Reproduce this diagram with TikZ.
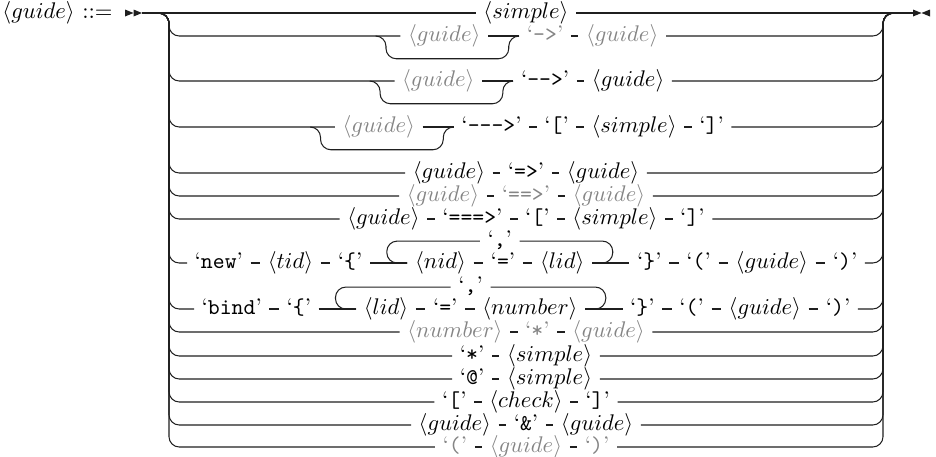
\documentclass[tikz,border=0pt,11pt]{standalone}
\usepackage{xcolor}
\usepackage{tikz}
\usetikzlibrary{matrix,calc,positioning}
\definecolor{railblack}{HTML}{1F1F1F}
\definecolor{graymuted}{HTML}{858585}
\newcommand{\nont}[1]{$\langle #1\rangle$}
\newcommand{\term}[1]{‘\texttt{#1}’}
\tikzset{
  rail/.style={draw=railblack,line width=0.5pt,rounded corners=5pt},
  item/.style={text height=.75em,text depth=.25em,inner xsep=3.5pt,inner ysep=0pt},
  muted/.style={text=graymuted},
  railrow/.style={matrix of nodes,ampersand replacement=\amp,column sep=4pt,
    nodes={item},inner sep=0pt},
}

\begin{document}
\begin{tikzpicture}[x=0.017cm,y=-0.017cm]
  \useasboundingbox (0,0) rectangle (936,456);
  \coordinate (start) at (142,13);
  \coordinate (stop) at (913,13);
  \coordinate (lt) at (169,13);
  \coordinate (rt) at (883,13);
  % start and end marks
  \fill[railblack] (125,9.5) -- (133.5,13) -- (125,16.5) -- cycle;
  \fill[railblack] (133.5,9.5) -- (start) -- (133.5,16.5) -- cycle;
  \fill[railblack] (913,9.5) -- (921.5,13) -- (913,16.5) -- cycle;
  \fill[railblack] (930,9.5) -- (921.5,13) -- (930,16.5) -- cycle;

  \node[item,inner xsep=1pt,anchor=west] (lhs) at (0,13) {\nont{guide} ::=};

  % alternatives
  \matrix[railrow] (r1) at (526,13) {\nont{simple}\\};
  \matrix[railrow,xshift=3.5pt] (r2) at (526,36)
    {|[muted]|\nont{guide} \amp[11.5pt] |[muted]|\term{->} \amp |[muted]|\nont{guide}\\};
  \matrix[railrow,xshift=3.5pt] (r3) at (526,81)
    {|[muted]|\nont{guide} \amp[11.5pt] \term{-\kern0pt->} \amp \nont{guide}\\};
  \matrix[railrow,xshift=3.5pt] (r4) at (526,127)
    {|[muted]|\nont{guide} \amp[11.5pt] \term{-\kern0pt-\kern0pt->} \amp \term{[} \amp \nont{simple} \amp \term{]}\\};
  \matrix[railrow] (r5) at (526,173) {\nont{guide} \amp \term{=>} \amp \nont{guide}\\};
  \matrix[railrow,nodes={muted}] (r6) at (526,196) {\nont{guide} \amp \term{==>} \amp \nont{guide}\\};
  \matrix[railrow] (r7) at (526,219)
    {\nont{guide} \amp \term{===>} \amp \term{[} \amp \nont{simple} \amp \term{]}\\};
  \matrix[railrow,column sep=5pt] (r8) at (526,263)
    {\term{new} \amp \nont{tid} \amp \term{\{} \amp[13.5pt] \nont{nid} \amp \term{=} \amp \nont{lid}
     \amp[13.5pt] \term{\}} \amp \term{(} \amp \nont{guide} \amp \term{)}\\};
  \matrix[railrow,column sep=5pt] (r9) at (526,309)
    {\term{bind} \amp \term{\{} \amp[13.5pt] \nont{lid} \amp \term{=} \amp \nont{number}
     \amp[13.5pt] \term{\}} \amp \term{(} \amp \nont{guide} \amp \term{)}\\};
  \matrix[railrow,nodes={muted}] (r10) at (526,332) {\nont{number} \amp \term{*} \amp \nont{guide}\\};
  \matrix[railrow] (r11) at (526,356) {\term{*} \amp \nont{simple}\\};
  \matrix[railrow] (r12) at (526,379) {\term{@} \amp \nont{simple}\\};
  \matrix[railrow] (r13) at (526,402) {\term{[} \amp \nont{check} \amp \term{]}\\};
  \matrix[railrow] (r14) at (526,425) {\nont{guide} \amp \term{\&} \amp \nont{guide}\\};
  \matrix[railrow,nodes={muted}] (r15) at (526,447) {\term{(} \amp \nont{guide} \amp \term{)}\\};

  % repeat separators
  \node[item,yshift=10.6pt] (c8) at ($(r8-1-4.west)!.5!(r8-1-6.east)$) {\term{,}};
  \node[item,yshift=10.6pt] (c9) at ($(r9-1-3.west)!.5!(r9-1-5.east)$) {\term{,}};

  % rails
  \draw[rail] (start) -- (r1) -- (stop);
  \foreach \r in {2,...,15} {
    \draw[rail] (start) -| (lt |- r\r.west) -- (r\r.west);
    \draw[rail] (r\r.east) -| (rt) -- (stop);
  }
  \foreach \r/\n in {2/3,3/3,4/5,5/3,6/3,7/5,8/10,9/9,10/3,11/2,12/2,13/3,14/3,15/3}
    \foreach \i [remember=\i as \p (initially 1)] in {2,...,\n}
      \draw[rail] (r\r-1-\p) -- (r\r-1-\i);

  % optional first guide
  \foreach \r in {2,3,4}
    \draw[rail] ($(r\r-1-1.west)+(-12pt,0)$) -| ($(r\r-1-1.west)+(-7pt,-11pt)$)
      -| ($(r\r-1-1.east)+(10pt,0)$) -- +(5pt,0);

  % loops
  \draw[rail] (c8.west) -| ($(r8-1-4.west)+(-10pt,0)$) -- (r8-1-4.west);
  \draw[rail] (c8.east) -| ($(r8-1-6.east)+(10pt,0)$) -- (r8-1-6.east);
  \draw[rail] (c9.west) -| ($(r9-1-3.west)+(-10pt,0)$) -- (r9-1-3.west);
  \draw[rail] (c9.east) -| ($(r9-1-5.east)+(10pt,0)$) -- (r9-1-5.east);
\end{tikzpicture}
\end{document}
